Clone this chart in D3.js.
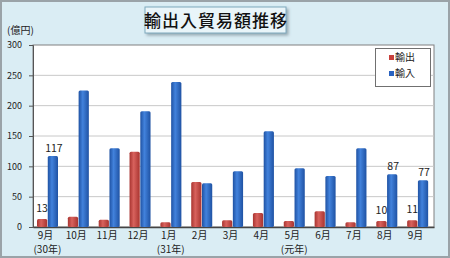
<!DOCTYPE html>
<html>
<head>
<meta charset="utf-8">
<script src="https://cdn.jsdelivr.net/npm/d3@7"></script>
<style>
  body { margin: 0; background: #fff; }
  svg { display: block; font-family: "Noto Sans CJK JP", sans-serif; }
</style>
</head>
<body>
<svg id="chart" width="450" height="258"></svg>
<script>
// months along the x axis, second line shows the era year
const months = ["9月", "10月", "11月", "12月", "1月", "2月", "3月", "4月", "5月", "6月", "7月", "8月", "9月"];
const yearNotes = ["(30年)", "", "", "", "(31年)", "", "", "", "(元年)", "", "", "", ""];
const exportVals = [13, 17, 12, 124, 8, 74, 11, 23, 10, 26, 8, 10, 11];
const importVals = [117, 225, 130, 191, 239, 72, 92, 158, 97, 84, 130, 87, 77];
const labeled = [0, 11, 12]; // months with value labels
const yTicks = [0, 50, 100, 150, 200, 250, 300];

const svg = d3.select("#chart");
const W = 450, H = 258;
const plot = { left: 33, right: 434, top: 45, bottom: 227 };

// background
svg.append("rect").attr("x", 1).attr("y", 1).attr("width", W - 2).attr("height", H - 2)
    .attr("fill", "#daedf4").attr("stroke", "#9aa3a8").attr("stroke-width", 2);

// gradients for the cylinder look
const defs = svg.append("defs");
const grad = (id, edge, mid) => {
    const g = defs.append("linearGradient").attr("id", id)
        .attr("x1", "0").attr("x2", "1").attr("y1", "0").attr("y2", "0");
    g.append("stop").attr("offset", "0%").attr("stop-color", edge);
    g.append("stop").attr("offset", "40%").attr("stop-color", mid);
    g.append("stop").attr("offset", "100%").attr("stop-color", edge);
};
grad("gRed", "#a83430", "#d8625d");
grad("gBlue", "#1f52a3", "#4282dc");
const shadow = defs.append("filter").attr("id", "shadow").attr("x", "-10%").attr("y", "-20%")
    .attr("width", "130%").attr("height", "160%");
shadow.append("feDropShadow").attr("dx", 2).attr("dy", 2).attr("stdDeviation", 1.5)
    .attr("flood-color", "#6b7d86").attr("flood-opacity", 0.6);

// plot area
svg.append("rect").attr("x", plot.left).attr("y", plot.top)
    .attr("width", plot.right - plot.left).attr("height", plot.bottom - plot.top)
    .attr("fill", "#fff").attr("stroke", "#808080").attr("stroke-width", 1);

const x = d3.scaleBand().domain(d3.range(months.length)).range([plot.left, plot.right]);
const y = d3.scaleLinear().domain([0, 300]).range([plot.bottom, plot.top]);
const x1 = d3.scaleBand().domain(["exp", "imp"]).range([4, 25]).paddingInner(0.05);

// gridlines
svg.append("g").selectAll("line").data(yTicks.slice(1, -1)).join("line")
    .attr("x1", plot.left).attr("x2", plot.right)
    .attr("y1", d => y(d)).attr("y2", d => y(d))
    .attr("stroke", "#c8c8c8");

// y axis
const yAxis = svg.append("g").attr("transform", "translate(" + plot.left + ",0)")
    .call(d3.axisLeft(y).tickValues(yTicks).tickSize(4).tickPadding(7));
yAxis.select(".domain").attr("stroke", "#555");
yAxis.selectAll("line").attr("stroke", "#555");
yAxis.selectAll("text").attr("font-size", 9).attr("fill", "#222")
    .attr("font-family", "Noto Sans CJK JP, sans-serif");

// x axis
const xAxis = svg.append("g").attr("transform", "translate(0," + plot.bottom + ")")
    .call(d3.axisBottom(x).tickSize(0).tickPadding(5).tickFormat(i => months[i]));
xAxis.select(".domain").attr("stroke", "#444").attr("stroke-width", 1.5);
xAxis.selectAll("text").attr("font-size", 10).attr("fill", "#222").attr("dx", -3)
    .attr("font-family", "Noto Sans CJK JP, sans-serif");
svg.append("g").selectAll("text").data(d3.range(months.length).filter(i => yearNotes[i])).join("text")
    .attr("x", i => x(i) + x.bandwidth() / 2 - 1).attr("y", 253)
    .attr("text-anchor", "middle").attr("font-size", 10).attr("fill", "#222")
    .text(i => yearNotes[i]);

// bars
const groups = svg.append("g").selectAll("g").data(d3.range(months.length)).join("g")
    .attr("transform", i => "translate(" + x(i) + ",0)");
groups.append("rect")
    .attr("x", x1("exp")).attr("width", x1.bandwidth())
    .attr("y", i => y(exportVals[i])).attr("height", i => y(0) - y(exportVals[i]))
    .attr("rx", 1.5).attr("fill", "url(#gRed)");
groups.append("rect")
    .attr("x", x1("imp")).attr("width", x1.bandwidth())
    .attr("y", i => y(importVals[i])).attr("height", i => y(0) - y(importVals[i]))
    .attr("rx", 1.5).attr("fill", "url(#gBlue)");

// value labels
const lab = svg.append("g").attr("font-size", 10.5).attr("fill", "#222").attr("text-anchor", "middle");
labeled.forEach(i => {
    lab.append("text").attr("x", x(i) + x1("exp") + x1.bandwidth() / 2)
        .attr("y", y(exportVals[i]) - 7).text(exportVals[i]);
    lab.append("text").attr("x", x(i) + x1("imp") + x1.bandwidth() / 2 + 1)
        .attr("y", y(importVals[i]) - 4).text(importVals[i]);
});

// unit
svg.append("text").attr("x", 7).attr("y", 34).attr("font-size", 10).attr("fill", "#222").text("(億円)");

// title box
svg.append("rect").attr("x", 145).attr("y", 7).attr("width", 141).attr("height", 26)
    .attr("fill", "#e9f5f9").attr("stroke", "#7fa9bd").attr("filter", "url(#shadow)");
svg.append("text").attr("x", 216).attr("y", 27).attr("text-anchor", "middle")
    .attr("font-size", 17).attr("font-weight", 500).attr("fill", "#111")
    .attr("letter-spacing", 1).text("輸出入貿易額推移");

// legend
const leg = svg.append("g");
leg.append("rect").attr("x", 375.5).attr("y", 48.5).attr("width", 55).attr("height", 38)
    .attr("fill", "#fff").attr("stroke", "#707070");
[["輸出", "#c8403c"], ["輸入", "#2a62c0"]].forEach((d, i) => {
    leg.append("rect").attr("x", 389).attr("y", 55 + i * 16).attr("width", 5).attr("height", 5).attr("fill", d[1]);
    leg.append("text").attr("x", 395).attr("y", 61 + i * 16).attr("font-size", 10).attr("fill", "#222").text(d[0]);
});
</script>
</body>
</html>
